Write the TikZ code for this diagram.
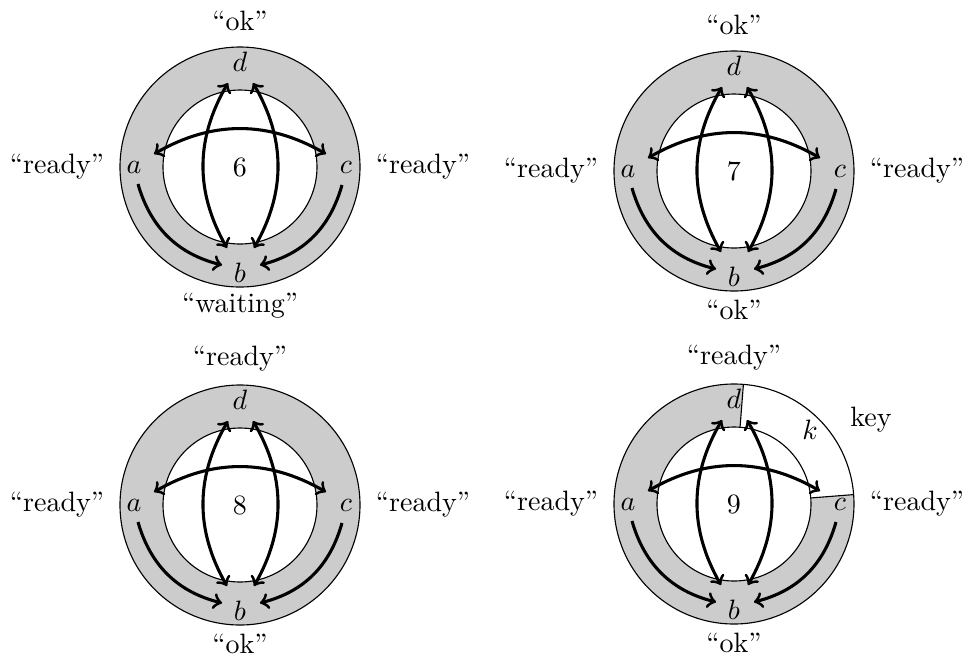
\documentclass[tikz,border=0pt]{standalone}
\tikzset{
  ringfill/.style={fill=black!20, even odd rule},
  ringline/.style={draw=black, line width=0.4pt},
  arr/.style={line width=1.1pt},
}
% #1 name prefix, #2 cx, #3 cy, #4 number, #5 top, #6 bottom, #7 left, #8 right, #9 extra background
\newcommand\ringdiag[9]{%
\begin{scope}[shift={(#2,#3)}]
  \fill[ringfill] (0,0) circle (120) (0,0) circle (77);
  #9
  \draw[ringline] (0,0) circle (120) (0,0) circle (77);
  \node (#1a) at (-106,0) {$a$};
  \node (#1c) at (106,0) {$c$};
  \node (#1d) at (0,105) {$d$};
  \node (#1b) at (0,-106) {$b$};
  \node (#1n) at (0,0) {#4};
  \node (#1top) at (0,146) {#5};
  \node (#1bot) at (0,-139) {#6};
  \node (#1left) at (-183,0) {#7};
  \node (#1right) at (183,0) {#8};
  \coordinate (#1acL) at (-86,13);
  \coordinate (#1acR) at (86,13);
  \coordinate (#1vLt) at (-12,84);
  \coordinate (#1vLb) at (-13,-81);
  \coordinate (#1vRt) at (13,84);
  \coordinate (#1vRb) at (14,-81);
  \coordinate (#1aS) at (-102,-17);
  \coordinate (#1bL) at (-18,-98);
  \coordinate (#1cS) at (102,-18);
  \coordinate (#1bR) at (20,-98);
  \draw[arr,<->] (#1acL) to[bend left=30] (#1acR);
  \draw[arr,<->] (#1vLb) to[bend left=30] (#1vLt);
  \draw[arr,<->] (#1vRb) to[bend right=30] (#1vRt);
  \draw[arr,->] (#1aS) to[bend right=30] (#1bL);
  \draw[arr,->] (#1cS) to[bend left=30] (#1bR);
\end{scope}}
\begin{document}
\begin{tikzpicture}[x=0.357pt, y=0.357pt]
\useasboundingbox (0,0) rectangle (962,-660);
\ringdiag{r6}{240}{-167}{6}{``ok''}{``waiting''}{``ready''}{``ready''}{}
\ringdiag{r7}{734}{-171}{7}{``ok''}{``ok''}{``ready''}{``ready''}{}
\ringdiag{r8}{240}{-505}{8}{``ready''}{``ok''}{``ready''}{``ready''}{}
\ringdiag{r9}{734}{-504}{9}{``ready''}{``ok''}{``ready''}{``ready''}{%
  \fill[white] (4.5:77) -- (4.5:120) arc[start angle=4.5, end angle=85.5, radius=120]
     -- (85.5:77) arc[start angle=85.5, end angle=4.5, radius=77] -- cycle;
  \draw[ringline] (4.5:77) -- (4.5:120) (85.5:77) -- (85.5:120);
  \node (r9k) at (76,74) {$k$};
  \node (r9key) at (137,84) {key};}
\end{tikzpicture}
\end{document}
